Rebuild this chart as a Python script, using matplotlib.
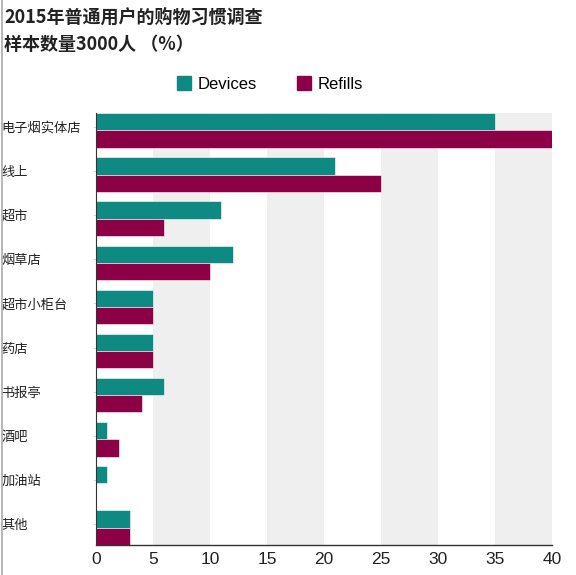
import matplotlib
matplotlib.use('Agg')
from matplotlib import pyplot as plt
from matplotlib.lines import Line2D
from matplotlib.patches import Patch
import numpy as np

plt.rcParams['font.family'] = ['Noto Sans CJK SC', 'DejaVu Sans']

# data (percent of users)
categories = ['电子烟实体店', '线上', '超市', '烟草店', '超市小柜台',
              '药店', '书报亭', '酒吧', '加油站', '其他']
devices = [35, 21, 11, 12, 5, 5, 6, 1, 1, 3]
refills = [40, 25, 6, 10, 5, 5, 4, 2, 0, 3]
xticks = [0, 5, 10, 15, 20, 25, 30, 35, 40]

teal = '#0e8a83'
maroon = '#8c0046'

fig = plt.figure(figsize=(5.76, 5.75), dpi=100)
ax = fig.add_axes([96/576, 1 - 545/575, 456/576, 432/575])

# alternating grey bands
for lo in range(5, 40, 10):
    ax.axvspan(lo, lo + 5, color='#efefef', zorder=0, lw=0)

y = np.arange(len(categories))
h = 0.39
ax.barh(y - h/2, devices, height=h, color=teal, edgecolor='white',
        linewidth=0.4, zorder=2, label='Devices')
ax.barh(y + h/2, refills, height=h, color=maroon, edgecolor='white',
        linewidth=0.4, zorder=2, label='Refills')

ax.set_xlim(0, 40)
ax.set_ylim(len(categories) - 1 + h + 0.005, -h - 0.005)

ax.set_xticks(xticks)
ax.set_xticklabels([str(t) for t in xticks], fontsize=12.5, color='#222222',
                   family=['Liberation Sans', 'DejaVu Sans'])
ax.tick_params(axis='x', length=0, pad=5)

ax.set_yticks(y - 0.08)
ax.set_yticklabels(categories, fontsize=9.5, color='#222222', ha='left')
ax.tick_params(axis='y', length=2, width=0.6, color='#cccccc', pad=66)

for s in ['top', 'right']:
    ax.spines[s].set_visible(False)
ax.spines['bottom'].set_color('#333333')
ax.spines['bottom'].set_linewidth(1.0)
ax.spines['left'].set_color('#333333')
ax.spines['left'].set_linewidth(0.8)

# title
fig.text(4/576, 1 - 17/575, '2015年普通用户的购物习惯调查', fontsize=13,
         fontweight='bold', color='#222222', va='center', ha='left')
fig.text(4/576, 1 - 44/575, '样本数量3000人 （%）', fontsize=13,
         fontweight='bold', color='#222222', va='center', ha='left')

# legend
handles = [Patch(color=teal, label='Devices'), Patch(color=maroon, label='Refills')]
fig.legend(handles=handles, loc='center', bbox_to_anchor=(270/576, 1 - 84/575),
           ncol=2, frameon=False, handlelength=0.85, handleheight=0.85,
           handletextpad=0.4, columnspacing=2.4,
           prop={'family': ['Liberation Sans', 'DejaVu Sans'], 'size': 12})

# left border line
fig.add_artist(Line2D([1.5/576, 1.5/576], [0, 1], color='#aaaaaa', lw=1.2,
                      transform=fig.transFigure))

plt.savefig('out.png', dpi=100)
